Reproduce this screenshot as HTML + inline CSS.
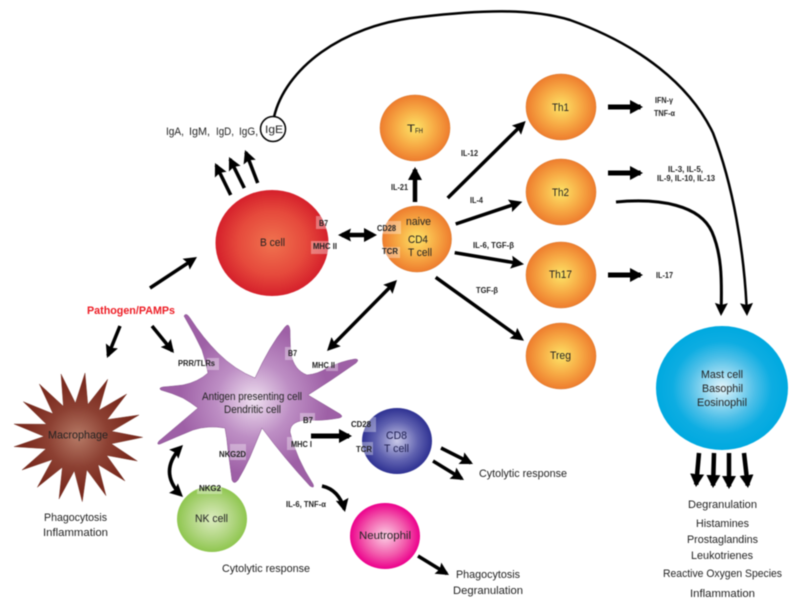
<!DOCTYPE html>
<html><head><meta charset="utf-8"><style>
html,body{margin:0;padding:0;background:#fff}
svg{display:block;filter:blur(.45px)}
text{font-family:"Liberation Sans",sans-serif;font-size:11.2px;fill:#222}
.s{font-weight:bold;font-size:7.8px;fill:#222}
.a{fill:none;stroke:#000;stroke-width:3.5;stroke-dasharray:93 100;marker-end:url(#h)}
.b{stroke-width:4.5;marker-end:url(#H)}
.w{stroke-width:5}
.d{stroke-dasharray:0 7 86 100;marker-start:url(#hs)}
.box{fill:#fff;fill-opacity:.35}
.o{stroke:#d8782c;stroke-width:.5;fill:url(#go)}
</style></head><body>
<svg width="800" height="608" viewBox="0 0 800 608" xmlns="http://www.w3.org/2000/svg">
<defs>
<marker id="h" markerUnits="userSpaceOnUse" markerWidth="14" markerHeight="14" refX="13" refY="7" orient="auto"><path d="M0 0.500L13 7L0 13.500L2 7z"/></marker>
<marker id="hs" markerUnits="userSpaceOnUse" markerWidth="14" markerHeight="14" refX="0" refY="7" orient="auto"><path d="M13 0.500L0 7L13 13.500L11 7z"/></marker>
<marker id="H" markerUnits="userSpaceOnUse" markerWidth="15" markerHeight="15" refX="13" refY="7.500" orient="auto"><path d="M0 0.500L13 7.500L0 14.500z"/></marker>
<radialGradient id="gb"><stop offset="0" stop-color="#f0734f"/><stop offset=".6" stop-color="#e64a3c"/><stop offset="1" stop-color="#d5202b"/></radialGradient>
<radialGradient id="go"><stop offset="0" stop-color="#fde467"/><stop offset=".55" stop-color="#f7ab45"/><stop offset="1" stop-color="#ee7d2e"/></radialGradient>
<radialGradient id="gm"><stop offset="0" stop-color="#e6f5fb"/><stop offset=".5" stop-color="#4dbfe8"/><stop offset=".75" stop-color="#0dade2"/><stop offset="1" stop-color="#00a9e0"/></radialGradient>
<radialGradient id="g8"><stop offset="0" stop-color="#c9c9e8"/><stop offset=".6" stop-color="#6062b0"/><stop offset="1" stop-color="#2e3192"/></radialGradient>
<radialGradient id="gn"><stop offset="0" stop-color="#fbd0e4"/><stop offset=".6" stop-color="#f25bac"/><stop offset="1" stop-color="#ec008c"/></radialGradient>
<radialGradient id="gk"><stop offset="0" stop-color="#dcecc0"/><stop offset=".6" stop-color="#b0d580"/><stop offset="1" stop-color="#8fc64f"/></radialGradient>
<radialGradient id="gh" gradientUnits="userSpaceOnUse" cx="78" cy="437" r="55"><stop offset="0" stop-color="#b67a66"/><stop offset=".55" stop-color="#8c4032"/><stop offset="1" stop-color="#7a2a1e"/></radialGradient>
<radialGradient id="ga" gradientUnits="userSpaceOnUse" cx="254" cy="400" r="75"><stop offset="0" stop-color="#efe0f0"/><stop offset=".5" stop-color="#bd8ec4"/><stop offset="1" stop-color="#9e60a6"/></radialGradient>
</defs>

<!-- connectors -->
<path class="a" pathLength="100" style="stroke-width:2.500;stroke-dasharray:98.500 100" d="M274 117C285 70 340 25 420 17C480 10 530 8 570 20C640 45 690 85 713 133C735 190 745 260 747 316"/>
<path class="a" pathLength="100" style="stroke-width:3;stroke-dasharray:97 100" d="M616 202C660 198 700 205 712 232C722 255 722 280 721 316"/>
<path class="a" pathLength="100" d="M230.700 195L215 163"/>
<path class="a" pathLength="100" d="M244.300 188L229 157"/>
<path class="a" pathLength="100" d="M257.700 183L245 150"/>
<path class="a" pathLength="100" d="M150 288L197 257"/>
<path class="a b d" pathLength="100" style="stroke-dasharray:0 10 80 100;marker-start:url(#hs)" d="M338 235L377 235"/>
<path class="a b" pathLength="100" d="M415 202L415 167"/>
<path class="a d" pathLength="100" d="M397 280L327 351"/>
<path class="a" pathLength="100" d="M447.700 198L525.700 121"/>
<path class="a" pathLength="100" d="M455.700 224L522.300 201.700"/>
<path class="a" pathLength="100" d="M454.700 252.700L524 264.300"/>
<path class="a" pathLength="100" d="M435.700 277.300L524 340.700"/>
<path class="a b w" pathLength="100" d="M608 107L643 107"/>
<path class="a b w" pathLength="100" d="M608 173L643 173"/>
<path class="a b w" pathLength="100" d="M608 275L643 275"/>
<path class="a b" pathLength="100" d="M699 453L696 487"/>
<path class="a b" pathLength="100" d="M714 453L713 488"/>
<path class="a b" pathLength="100" d="M729 453L729 489"/>
<path class="a b" pathLength="100" d="M744 453L748 488"/>
<path class="a" pathLength="100" d="M120 326L107 358"/>
<path class="a" pathLength="100" d="M152 326L174 353"/>
<path class="a b w" pathLength="100" d="M311 436L352 436"/>
<path class="a d" pathLength="100" d="M183 445Q156 472 183 497"/>
<path class="a" pathLength="100" d="M322 486Q340 490 345 512"/>
<path class="a" pathLength="100" d="M441 448L473 464"/>
<path class="a" pathLength="100" d="M433 461L464 480"/>
<path class="a" pathLength="100" d="M418 556L449 575"/>

<!-- cells -->
<polygon fill="url(#gh)" stroke="#6e2a1c" stroke-width=".4" points="85,373 87.800,404.500 107.700,379.300 98.900,410.200 126.700,394 107.200,419.600 139,415 111.500,431.300 142.700,437.300 111.300,443.800 137.300,461 106.600,455.400 125,481 98,464.500 106,495.700 86.800,469.800 82.300,501.700 74.300,470.800 59,499 62.400,467.200 37.300,487.300 52.500,459.500 22,470 46.100,448.700 14,446.700 44,436.400 14,424 46.500,424.200 23.300,401.700 53.100,413.800 39.300,384 63.400,406.300 61,374 75.400,403.100"/>
<path fill="url(#ga)" stroke="#84508c" stroke-width=".5" d="M184 316Q186 312 190 318Q203 338 218 353Q235 370 255 378Q270 345 285 327Q289 322 290 330Q290 345 291 354Q294 370 307 375Q318 374 327 368Q342 361 355 359Q360 359 356 363Q332 380 308 395Q325 405 340 414Q344 417 339 418Q322 421 310 420Q290 420 290 432Q296 458 313 484Q315 489 310 486Q284 458 262 428Q255 445 250 457Q244 470 238 480Q234 485 232 480Q230 465 228 450Q227 438 225 428Q208 425 193 430Q176 437 160 444Q156 445 159 441Q178 425 198 408Q190 402 183 398Q172 393 161 390Q158 388 163 387Q175 386 183 385Q198 382 208 373Q206 362 202 350Q194 333 184 316z"/>

<ellipse cx="272" cy="243" rx="56.500" ry="53" fill="url(#gb)"/>
<ellipse class="o" cx="417" cy="239" rx="34.500" ry="33"/>
<ellipse class="o" cx="415" cy="128" rx="35" ry="33"/>
<ellipse class="o" cx="561" cy="107" rx="35" ry="33"/>
<ellipse class="o" cx="561" cy="192" rx="35" ry="33"/>
<ellipse class="o" cx="561" cy="275" rx="35" ry="33"/>
<ellipse class="o" cx="561" cy="356" rx="35" ry="33"/>
<ellipse cx="722" cy="388" rx="66" ry="62" fill="url(#gm)"/>
<ellipse cx="397" cy="441" rx="35" ry="33" fill="url(#g8)"/>
<ellipse cx="385" cy="536" rx="35" ry="33" fill="url(#gn)"/>
<ellipse cx="212" cy="519" rx="35" ry="33" fill="url(#gk)"/>
<circle cx="273" cy="129" r="12.500" fill="#fff" stroke="#000" stroke-width="1.500"/>

<!-- boxes -->
<rect class="box" x="207" y="358" width="12" height="12"/>
<rect class="box" x="285" y="347" width="10" height="13"/>
<rect class="box" x="326" y="362" width="12" height="9"/>
<rect class="box" x="300" y="413" width="15" height="12"/>
<rect class="box" x="287" y="437" width="15" height="13"/>
<rect class="box" x="230" y="444" width="16" height="16"/>
<rect class="box" x="197" y="485" width="25" height="9"/>
<rect class="box" x="363" y="417" width="13" height="15"/>
<rect class="box" x="362" y="442" width="11" height="13"/>
<rect class="box" x="316" y="216" width="12" height="13"/>
<rect class="box" x="311" y="241" width="18" height="13"/>
<rect class="box" x="383" y="221" width="18" height="13"/>
<rect class="box" x="383" y="247" width="17" height="11"/>

<!-- text -->
<text x="87" y="314" textLength="88" lengthAdjust="spacingAndGlyphs" style="fill:#ed1c24;font-weight:bold">Pathogen/PAMPs</text>
<text x="48" y="438.500" textLength="60" lengthAdjust="spacingAndGlyphs">Macrophage</text>
<text x="44" y="521" textLength="63" lengthAdjust="spacingAndGlyphs">Phagocytosis</text>
<text x="43" y="536" textLength="65" lengthAdjust="spacingAndGlyphs">Inflammation</text>
<text x="202" y="400" textLength="100" lengthAdjust="spacingAndGlyphs">Antigen presenting cell</text>
<text x="224" y="413" textLength="57" lengthAdjust="spacingAndGlyphs">Dendritic cell</text>
<text x="195" y="522" textLength="33" lengthAdjust="spacingAndGlyphs">NK cell</text>
<text x="222" y="572" textLength="88" lengthAdjust="spacingAndGlyphs">Cytolytic response</text>
<text x="386" y="439" textLength="21" lengthAdjust="spacingAndGlyphs" style="fill:#1d1d50">CD8</text>
<text x="384" y="452" textLength="25" lengthAdjust="spacingAndGlyphs" style="fill:#1d1d50">T cell</text>
<text x="479" y="477" textLength="88" lengthAdjust="spacingAndGlyphs">Cytolytic response</text>
<text x="359" y="539" textLength="52" lengthAdjust="spacingAndGlyphs">Neutrophil</text>
<text x="456" y="578" textLength="64" lengthAdjust="spacingAndGlyphs">Phagocytosis</text>
<text x="453" y="594" textLength="70" lengthAdjust="spacingAndGlyphs">Degranulation</text>
<text x="550" y="359" textLength="21" lengthAdjust="spacingAndGlyphs">Treg</text>
<text x="701" y="378" textLength="42" lengthAdjust="spacingAndGlyphs">Mast cell</text>
<text x="702" y="392" textLength="41" lengthAdjust="spacingAndGlyphs">Basophil</text>
<text x="697" y="406" textLength="50" lengthAdjust="spacingAndGlyphs">Eosinophil</text>
<text x="688" y="508" textLength="69" lengthAdjust="spacingAndGlyphs">Degranulation</text>
<text x="696" y="527" textLength="53" lengthAdjust="spacingAndGlyphs">Histamines</text>
<text x="687" y="543" textLength="71" lengthAdjust="spacingAndGlyphs">Prostaglandins</text>
<text x="691" y="559" textLength="62" lengthAdjust="spacingAndGlyphs">Leukotrienes</text>
<text x="663" y="577" textLength="119" lengthAdjust="spacingAndGlyphs">Reactive Oxygen Species</text>
<text x="690" y="597" textLength="65" lengthAdjust="spacingAndGlyphs">Inflammation</text>
<text x="166" y="135" textLength="18" lengthAdjust="spacingAndGlyphs">IgA,</text>
<text x="189" y="135" textLength="21" lengthAdjust="spacingAndGlyphs">IgM,</text>
<text x="216" y="135" textLength="18" lengthAdjust="spacingAndGlyphs">IgD,</text>
<text x="239" y="135" textLength="19" lengthAdjust="spacingAndGlyphs">IgG,</text>
<text x="265" y="133" textLength="18" lengthAdjust="spacingAndGlyphs">IgE</text>
<text x="260" y="246" textLength="25" lengthAdjust="spacingAndGlyphs">B cell</text>
<text x="406" y="225" textLength="25" lengthAdjust="spacingAndGlyphs">naive</text>
<text x="408" y="243" textLength="20" lengthAdjust="spacingAndGlyphs">CD4</text>
<text x="408" y="256" textLength="24" lengthAdjust="spacingAndGlyphs">T cell</text>
<text x="407" y="132" textLength="8" lengthAdjust="spacingAndGlyphs">T</text>
<text x="415" y="133" textLength="8" lengthAdjust="spacingAndGlyphs" style="font-size:7px">FH</text>
<text x="552" y="111" textLength="17" lengthAdjust="spacingAndGlyphs">Th1</text>
<text x="552" y="196" textLength="17" lengthAdjust="spacingAndGlyphs">Th2</text>
<text x="549" y="278" textLength="23" lengthAdjust="spacingAndGlyphs">Th17</text>

<text class="s" x="178" y="366" textLength="37" lengthAdjust="spacingAndGlyphs">PRR/TLRs</text>
<text class="s" x="288" y="356" textLength="9" lengthAdjust="spacingAndGlyphs">B7</text>
<text class="s" x="312" y="368" textLength="23" lengthAdjust="spacingAndGlyphs">MHC II</text>
<text class="s" x="303" y="423" textLength="10" lengthAdjust="spacingAndGlyphs">B7</text>
<text class="s" x="291" y="447" textLength="21" lengthAdjust="spacingAndGlyphs">MHC I</text>
<text class="s" x="219" y="457" textLength="27" lengthAdjust="spacingAndGlyphs">NKG2D</text>
<text class="s" x="199" y="491" textLength="22" lengthAdjust="spacingAndGlyphs">NKG2</text>
<text class="s" x="286" y="507" textLength="40" lengthAdjust="spacingAndGlyphs">IL-6, TNF-α</text>
<text class="s" x="351" y="427" textLength="20" lengthAdjust="spacingAndGlyphs">CD28</text>
<text class="s" x="356" y="452" textLength="16" lengthAdjust="spacingAndGlyphs">TCR</text>
<text class="s" x="319" y="226" textLength="9" lengthAdjust="spacingAndGlyphs">B7</text>
<text class="s" x="313" y="249" textLength="24" lengthAdjust="spacingAndGlyphs">MHC II</text>
<text class="s" x="377" y="231" textLength="19" lengthAdjust="spacingAndGlyphs">CD28</text>
<text class="s" x="382" y="254" textLength="16" lengthAdjust="spacingAndGlyphs">TCR</text>
<text class="s" x="391" y="190" textLength="17" lengthAdjust="spacingAndGlyphs">IL-21</text>
<text class="s" x="461" y="156" textLength="17" lengthAdjust="spacingAndGlyphs">IL-12</text>
<text class="s" x="470" y="203" textLength="13" lengthAdjust="spacingAndGlyphs">IL-4</text>
<text class="s" x="473" y="248" textLength="41" lengthAdjust="spacingAndGlyphs">IL-6, TGF-β</text>
<text class="s" x="476" y="293" textLength="22" lengthAdjust="spacingAndGlyphs">TGF-β</text>
<text class="s" x="655" y="103" textLength="18" lengthAdjust="spacingAndGlyphs">IFN-γ</text>
<text class="s" x="654" y="116" textLength="21" lengthAdjust="spacingAndGlyphs">TNF-α</text>
<text class="s" x="668" y="172" textLength="35" lengthAdjust="spacingAndGlyphs">IL-3, IL-5,</text>
<text class="s" x="657" y="181" textLength="58" lengthAdjust="spacingAndGlyphs">IL-9, IL-10, IL-13</text>
<text class="s" x="656" y="278" textLength="17" lengthAdjust="spacingAndGlyphs">IL-17</text>
</svg>
</body></html>
